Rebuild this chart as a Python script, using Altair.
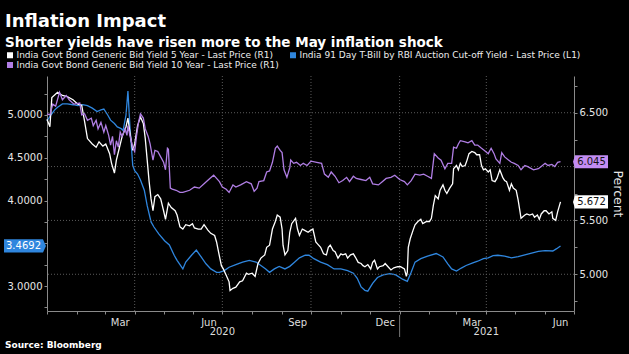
import altair as alt
import pandas as pd

START = pd.Timestamp("2020-01-01")

# India Govt Bond 5Y yield (right axis) - day offsets from 2020-01-01, yield %
y5_days = [0, 3, 5, 11, 16, 21, 27, 32, 36, 39, 42, 47, 51, 54, 58, 61, 65, 67, 70, 72, 75, 78, 82, 84, 86,
           89, 91, 94, 97, 100, 102, 104, 106, 108, 110, 112, 115, 118, 121, 123, 126, 129, 133, 135, 138,
           141, 144, 148, 151, 153, 157, 160, 163, 167, 170, 174, 176, 178, 181, 183, 186, 189, 190, 193,
           196, 200, 203, 207, 209, 213, 216, 219, 222, 226, 228, 231, 234, 237, 239, 242, 244, 245, 247,
           250, 252, 254, 258, 260, 262, 265, 267, 271, 274, 276, 279, 281, 284, 287, 290, 292, 294, 297,
           299, 302, 305, 307, 310, 312, 315, 318, 320, 323, 326, 328, 330, 333, 336, 338, 340, 343, 345,
           349, 351, 354, 357, 360, 364, 367, 371, 373, 374, 375, 377, 380, 382, 385, 388, 390, 394, 397,
           399, 401, 403, 406, 408, 411, 413, 415, 418, 421, 422, 425, 427, 429, 431, 434, 436, 438, 441,
           444, 446, 449, 451, 453, 455, 458, 460, 462, 465, 467, 470, 473, 475, 477, 480, 482, 484, 487,
           489, 491, 492, 496, 498, 501, 504, 506, 509, 511, 513, 516, 518, 521, 524, 525, 528, 530, 533]
y5_vals = [6.44, 6.37, 6.64, 6.69, 6.66, 6.65, 6.62, 6.58, 6.57, 6.42, 6.26, 6.21, 6.18, 6.23, 6.19, 6.21,
           6.12, 6.03, 5.94, 6.06, 6.17, 6.28, 6.37, 6.45, 6.32, 6.15, 6.21, 6.38, 6.46, 6.40, 6.26, 6.06,
           5.86, 5.70, 5.59, 5.72, 5.74, 5.70, 5.59, 5.51, 5.66, 5.62, 5.59, 5.55, 5.44, 5.42, 5.46, 5.45,
           5.47, 5.43, 5.42, 5.42, 5.46, 5.41, 5.38, 5.36, 5.30, 5.21, 5.08, 5.05, 4.99, 4.93, 4.85, 4.87,
           4.88, 4.93, 4.94, 5.01, 5.00, 5.01, 4.98, 5.10, 5.15, 5.18, 5.25, 5.27, 5.42, 5.49, 5.55, 5.53,
           5.42, 5.27, 5.18, 5.22, 5.39, 5.47, 5.52, 5.42, 5.36, 5.42, 5.41, 5.39, 5.41, 5.42, 5.30, 5.28,
           5.25, 5.19, 5.18, 5.25, 5.27, 5.22, 5.21, 5.15, 5.19, 5.18, 5.19, 5.15, 5.18, 5.19, 5.16, 5.11,
           5.10, 5.08, 5.07, 5.09, 5.05, 5.11, 5.13, 5.05, 5.07, 5.08, 5.10, 5.07, 5.04, 5.06, 5.07, 5.07,
           5.05, 4.98, 5.02, 5.25, 5.33, 5.41, 5.46, 5.49, 5.51, 5.47, 5.49, 5.49, 5.52, 5.64, 5.73, 5.70,
           5.78, 5.83, 5.78, 5.75, 5.80, 5.84, 5.98, 6.01, 5.97, 6.03, 6.00, 6.01, 6.06, 6.12, 6.14, 6.13,
           6.11, 6.11, 6.01, 5.97, 5.98, 5.95, 5.97, 5.87, 5.86, 5.89, 5.97, 5.90, 5.87, 5.86, 5.78, 5.84,
           5.80, 5.78, 5.69, 5.58, 5.52, 5.55, 5.56, 5.55, 5.56, 5.53, 5.55, 5.51, 5.56, 5.59, 5.59, 5.56,
           5.58, 5.52, 5.50, 5.58, 5.672]

# India Govt Bond 10Y yield (right axis)
y10_days = [0, 3, 6, 9, 13, 16, 20, 23, 28, 34, 36, 39, 42, 46, 48, 51, 53, 56, 59, 61, 64, 66, 68, 70, 72,
            74, 76, 78, 81, 83, 84, 86, 89, 91, 93, 95, 97, 100, 102, 105, 107, 110, 112, 115, 118, 121,
            123, 125, 126, 128, 130, 134, 138, 141, 148, 153, 158, 163, 169, 173, 176, 179, 182, 186, 189,
            193, 196, 201, 207, 212, 215, 218, 220, 225, 228, 231, 234, 237, 239, 242, 244, 246, 249, 252,
            253, 256, 259, 263, 266, 270, 274, 280, 285, 288, 292, 295, 299, 303, 307, 311, 314, 318, 321,
            326, 331, 335, 338, 344, 348, 352, 357, 361, 366, 371, 374, 378, 382, 387, 391, 395, 399, 402,
            406, 409, 413, 416, 420, 422, 425, 427, 429, 434, 437, 441, 444, 447, 451, 454, 458, 461, 464,
            466, 470, 472, 475, 479, 482, 485, 489, 492, 496, 499, 505, 510, 513, 517, 520, 524, 527, 530,
            533]
y10_vals = [6.49, 6.48, 6.58, 6.56, 6.69, 6.62, 6.66, 6.62, 6.58, 6.59, 6.48, 6.49, 6.43, 6.45, 6.38, 6.43,
            6.35, 6.41, 6.32, 6.38, 6.29, 6.20, 6.28, 6.11, 6.24, 6.18, 6.32, 6.28, 6.35, 6.29, 6.38, 6.29,
            6.18, 6.14, 6.29, 6.41, 6.49, 6.45, 6.35, 6.28, 6.21, 6.06, 6.15, 6.14, 6.09, 6.04, 5.97, 6.17,
            6.16, 5.80, 5.79, 5.78, 5.76, 5.76, 5.78, 5.81, 5.80, 5.84, 5.89, 5.92, 5.89, 5.86, 5.81, 5.79,
            5.76, 5.83, 5.81, 5.83, 5.86, 5.84, 5.77, 5.80, 5.86, 5.87, 5.95, 5.96, 6.04, 6.17, 6.19, 6.15,
            6.13, 5.97, 5.90, 5.99, 6.06, 6.03, 6.04, 6.01, 6.03, 6.01, 6.05, 6.04, 6.03, 5.93, 5.90, 5.95,
            5.91, 5.85, 5.87, 5.90, 5.86, 5.91, 5.89, 5.88, 5.87, 5.90, 5.84, 5.83, 5.86, 5.89, 5.90, 5.92,
            5.88, 5.86, 5.83, 5.87, 5.93, 5.92, 5.93, 5.91, 5.89, 6.12, 6.08, 6.06, 5.98, 6.03, 6.03, 6.18,
            6.17, 6.21, 6.24, 6.23, 6.22, 6.24, 6.20, 6.20, 6.17, 6.15, 6.12, 6.17, 6.12, 6.07, 6.03, 6.13,
            6.09, 6.06, 6.04, 6.03, 6.01, 5.97, 6.01, 6.00, 5.97, 5.98, 6.00, 6.03, 6.01, 6.02, 6.00, 6.04,
            6.045]

# India 91 Day T-Bill cut-off yield (left axis)
tb_days = [0, 4, 8, 11, 16, 21, 27, 32, 37, 42, 47, 52, 56, 59, 63, 66, 70, 73, 77, 79, 82, 84, 86, 89,
           91, 94, 97, 101, 104, 108, 111, 116, 122, 127, 132, 135, 138, 141, 144, 150, 155, 160, 165, 170,
           176, 179, 184, 189, 196, 203, 210, 217, 222, 227, 231, 236, 241, 247, 252, 256, 262, 268, 272,
           277, 284, 291, 298, 305, 312, 318, 322, 326, 330, 333, 338, 343, 349, 356, 362, 369, 374, 378,
           382, 388, 395, 404, 411, 416, 420, 425, 430, 435, 442, 447, 453, 458, 463, 468, 475, 482, 489,
           496, 503, 510, 517, 525, 529, 533]
tb_vals = [4.93, 5.00, 5.06, 5.09, 5.13, 5.13, 5.12, 5.11, 5.12, 5.11, 5.08, 5.04, 5.06, 5.07, 5.00, 4.94,
           4.90, 4.86, 4.84, 4.82, 5.00, 5.28, 4.88, 4.41, 4.35, 4.31, 4.24, 4.12, 3.94, 3.75, 3.69, 3.61,
           3.53, 3.48, 3.36, 3.30, 3.25, 3.20, 3.28, 3.36, 3.42, 3.34, 3.26, 3.20, 3.16, 3.16, 3.18, 3.22,
           3.25, 3.28, 3.30, 3.28, 3.24, 3.20, 3.16, 3.20, 3.23, 3.20, 3.23, 3.27, 3.33, 3.36, 3.36, 3.32,
           3.28, 3.25, 3.20, 3.20, 3.18, 3.15, 3.09, 2.99, 2.95, 2.94, 3.03, 3.10, 3.13, 3.145, 3.13, 3.08,
           3.055, 3.16, 3.28, 3.32, 3.35, 3.38, 3.34, 3.26, 3.20, 3.175, 3.21, 3.24, 3.27, 3.29, 3.32, 3.33,
           3.355, 3.36, 3.35, 3.33, 3.345, 3.365, 3.385, 3.405, 3.415, 3.41, 3.437, 3.4692]

S5 = "India Govt Bond Generic Bid Yield 5 Year - Last Price (R1)"
STB = "India 91 Day T-Bill by RBI Auction Cut-off Yield - Last Price (L1)"
S10 = "India Govt Bond Generic Bid Yield 10 Year - Last Price (R1)"
series_names = [S5, S10, STB]
series_colors = ["#ffffff", "#b07ee4", "#2f86de"]

last_left_vals = [3.4692]
last_left_labels = ["3.4692"]
last_right_vals = [6.045, 5.672]
last_right_labels = ["6.045", "5.672"]
last_right_fills = ["#c28cf2", "#ffffff"]

year_labels = ["2020", "2021"]
year_label_dates = ["2020-07-01", "2021-04-01"]
quarter_grid_dates = ["2020-04-01", "2020-07-01", "2020-10-01", "2021-01-01", "2021-04-01"]
year_break_dates = ["2021-01-01"]
right_grid_vals = [5.0, 5.5, 6.0, 6.5]
left_tick_vals = [2.75, 3.0, 3.25, 3.5, 3.75, 4.0, 4.25, 4.5, 4.75, 5.0, 5.25]
right_tick_vals = [4.75, 5.0, 5.25, 5.5, 5.75, 6.0, 6.25, 6.5, 6.75]

FONT = "DejaVu Sans"
W, H = 527, 235


def frame(days, vals, name):
    return pd.DataFrame({"date": START + pd.to_timedelta(days, unit="D"), "value": vals, "series": name})


df_left = frame(tb_days, tb_vals, STB)
df_right = pd.concat([frame(y5_days, y5_vals, S5), frame(y10_days, y10_vals, S10)], ignore_index=True)

month_ticks = [alt.DateTime(year=2020 + (m // 12), month=(m % 12) + 1, date=1) for m in range(0, 19)]

x_axis = alt.Axis(
    values=month_ticks,
    labelExpr="month(datum.value) % 3 == 2 ? timeFormat(datum.value, '%b') : ''",
    labelOffset=15, labelOverlap=False, labelFlush=False, labelPadding=3,
    tickSize=3, tickColor="#8a8a8a", domainColor="#8a8a8a", labelColor="#dddddd",
    labelFontSize=10, grid=False, title=None,
)
X = alt.X("date:T",
          scale=alt.Scale(domain=[alt.DateTime(year=2020, month=1, date=1),
                                  alt.DateTime(year=2021, month=7, date=1)]),
          axis=x_axis)

left_axis = alt.Axis(
    orient="left", values=left_tick_vals,
    labelExpr="(datum.value * 4) % 2 == 0 && datum.value != 3.5 ? format(datum.value, '.4f') : ''",
    tickSize=3, tickColor="#8a8a8a", domainColor="#8a8a8a", labelColor="#e6e6e6",
    labelFontSize=10, labelPadding=2, grid=False, title=None,
)
right_axis = alt.Axis(
    orient="right", values=right_tick_vals,
    labelExpr="(datum.value * 4) % 2 == 0 && datum.value != 6 ? format(datum.value, '.3f') : ''",
    tickSize=3, tickColor="#8a8a8a", domainColor="#8a8a8a", labelColor="#e6e6e6",
    labelFontSize=10, labelPadding=2, grid=False,
    title="Percent", titleAngle=90, titleColor="#e6e6e6", titleFontSize=12.5,
    titleFontWeight="normal", titlePadding=3,
)
YL = alt.Y("value:Q", scale=alt.Scale(domain=[2.708, 5.456], nice=False, zero=False), axis=left_axis)
YR = alt.Y("value:Q", scale=alt.Scale(domain=[4.659, 6.841], nice=False, zero=False), axis=right_axis)

color = alt.Color(
    "series:N",
    scale=alt.Scale(domain=series_names, range=series_colors),
    legend=alt.Legend(
        orient="none", legendX=-41.5, legendY=-25.5, columns=2, columnPadding=9, rowPadding=0,
        clipHeight=9, symbolType="square", symbolSize=9, symbolStrokeWidth=3, labelFontSize=9,
        labelColor="#eeeeee", labelFont=FONT, labelLimit=400, labelOffset=2, padding=0,
        title=None, symbolOffset=0,
    ),
)

# vertical quarter gridlines
vgrid = alt.Chart(pd.DataFrame({"date": pd.to_datetime(quarter_grid_dates)})).mark_rule(
    color="#5a5a5a", strokeDash=[1, 2], strokeWidth=1).encode(x=X)

# left layer: T-bill
tb_line = alt.Chart(df_left).mark_line(strokeWidth=1.3).encode(x=X, y=YL, color=color)
left_badge_df = pd.DataFrame({"value": last_left_vals, "label": last_left_labels})
LB_PATH = "M-1,-0.34 L1,-0.34 L1.15,0 L1,0.34 L-1,0.34 Z"
tb_badge = alt.Chart(left_badge_df).mark_point(
    shape=LB_PATH, filled=True, size=1521, opacity=1, strokeWidth=0, fill="#2f86de"
).encode(x=alt.value(-23.5), y=YL)
tb_badge_text = alt.Chart(left_badge_df).mark_text(
    color="#ffffff", fontSize=10, font=FONT, align="center", baseline="middle"
).encode(x=alt.value(-23.5), y=YL, text="label:N")
left = alt.layer(tb_line, tb_badge, tb_badge_text)

# right layer: bond yields
hgrid = alt.Chart(pd.DataFrame({"value": right_grid_vals})).mark_rule(
    color="#5a5a5a", strokeDash=[1, 2], strokeWidth=1).encode(y=YR)
bond_lines = alt.Chart(df_right).mark_line(strokeWidth=1.3).encode(
    x=X, y=YR, color=color, detail="series:N")
right_badge_df = pd.DataFrame({"value": last_right_vals, "label": last_right_labels, "fill": last_right_fills})
RB_PATH = "M-1.12,0 L-1,-0.4 L1,-0.4 L1,0.4 L-1,0.4 Z"
bond_badges = alt.Chart(right_badge_df).mark_point(
    shape=RB_PATH, filled=True, size=1089, opacity=1, strokeWidth=0
).encode(x=alt.value(544.5), y=YR, fill=alt.Fill("fill:N", scale=None))
bond_badge_text = alt.Chart(right_badge_df).mark_text(
    color="#111111", fontSize=10, font=FONT, align="center", baseline="middle"
).encode(x=alt.value(544.5), y=YR, text="label:N")
right = alt.layer(hgrid, bond_lines, bond_badges, bond_badge_text)

# year labels + separator + source
years = alt.Chart(pd.DataFrame({"date": pd.to_datetime(year_label_dates), "year": year_labels})).mark_text(
    color="#dddddd", fontSize=10, font=FONT, align="center", baseline="middle"
).encode(x=X, y=alt.value(H + 21), text="year:N")
year_sep = alt.Chart(pd.DataFrame({"date": pd.to_datetime(year_break_dates)})).mark_rule(
    color="#777777", strokeWidth=1).encode(x=X, y=alt.value(H + 4), y2=alt.value(H + 26))
source = alt.Chart(pd.DataFrame({"t": ["Source: Bloomberg"]})).mark_text(
    color="#ffffff", fontSize=9, fontWeight="bold", font=FONT, align="left", baseline="middle"
).encode(x=alt.value(-42), y=alt.value(H + 34), text="t:N")

chart = alt.layer(vgrid, left, right, years, year_sep, source).resolve_scale(
    y="independent"
).properties(
    width=W, height=H,
    padding={"left": 47, "top": 76, "right": 55, "bottom": 43},
    autosize=alt.AutoSizeParams(type="none"),
    background="#000000",
    title=alt.TitleParams(
        text="Inflation Impact",
        subtitle="Shorter yields have risen more to the May inflation shock",
        anchor="start", frame="group", dx=-42, offset=1.5,
        font=FONT, subtitleFont=FONT, fontSize=18, subtitleFontSize=13.5,
        fontWeight="bold", subtitleFontWeight="bold", color="#ffffff", subtitleColor="#ffffff",
        subtitlePadding=5,
    ),
).configure_view(stroke=None).configure_axis(labelFont=FONT, titleFont=FONT)

chart.save("out.html", embed_options={"renderer": "svg", "actions": False})
